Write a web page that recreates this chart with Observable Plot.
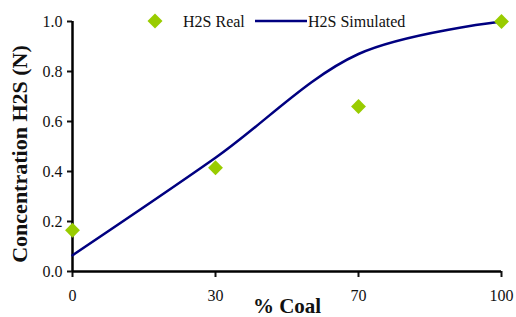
<!DOCTYPE html>
<html><head><meta charset="utf-8">
<script src="https://cdn.jsdelivr.net/npm/d3@7"></script>
<script src="https://cdn.jsdelivr.net/npm/@observablehq/plot@0.6"></script>
<style>
body{margin:0;background:#fff;}
#wrap{position:relative;width:516px;height:317px;font-family:"Liberation Serif",serif;}
#wrap svg{font-family:"Liberation Serif",serif !important;}
#wrap svg text{font-family:"Liberation Serif",serif !important;}
g[aria-label="x-axis label"]{font-weight:bold !important;font-size:21px !important;}
#legend{position:absolute;left:0;top:0;}
</style></head>
<body><div id="wrap"></div>
<script>
const coal = ["0", "30", "70", "100"];
const realH2S = [0.165, 0.415, 0.66, 1.0];
const simH2S = [0.065, 0.455, 0.87, 1.0];
const yTicks = [0, 0.2, 0.4, 0.6, 0.8, 1.0];
const seriesNames = ["H2S Real", "H2S Simulated"];
const xTitle = "% Coal";
const yTitle = "Concentration H2S (N)";
const colors = {real: "#99CC00", sim: "#000080"};

const real = coal.map((c, i) => ({c, v: realH2S[i]}));
const sim = coal.map((c, i) => ({c, v: simH2S[i]}));

const chart = Plot.plot({
  width: 516, height: 317,
  marginTop: 21, marginBottom: 46, marginLeft: 72, marginRight: 15,
  style: {background: "#fff", color: "#111"},
  x: {type: "point", domain: coal, padding: 0},
  y: {domain: [0, 1]},
  marks: [
    Plot.axisX({tickSize: 6, tickPadding: 12, strokeWidth: 2, fontSize: 16, label: xTitle, labelAnchor: "center", labelOffset: 41}),
    Plot.axisY({ticks: yTicks, tickSize: 5, tickPadding: 5, strokeWidth: 2, fontSize: 16, tickFormat: d3.format(".1f"), label: null}),
    Plot.text([yTitle], {frameAnchor: "left", textAnchor: "middle", lineAnchor: "middle", rotate: -90, dx: -52.5, dy: 7.5, fontSize: 22, fontWeight: "bold", fill: "#111"}),
    Plot.ruleY([0], {stroke: "#000", strokeWidth: 2.5}),
    Plot.ruleX([coal[0]], {stroke: "#000", strokeWidth: 2.5}),
    Plot.line(sim, {x: "c", y: "v", stroke: colors.sim, strokeWidth: 2.5, curve: "catmull-rom"}),
    Plot.dot(real, {x: "c", y: "v", symbol: "diamond2", r: 6.7, fill: colors.real, stroke: "none"})
  ]
});
const wrap = document.getElementById("wrap");
wrap.prepend(chart);

// legend overlay (inside plot area, as in the original)
const ns = "http://www.w3.org/2000/svg";
const lg = document.createElementNS(ns, "svg");
lg.setAttribute("id", "legend");
lg.setAttribute("width", 516);
lg.setAttribute("height", 40);
lg.innerHTML =
  `<path d="M155 13.5 L162.5 21 L155 28.5 L147.5 21 Z" fill="${colors.real}"/>` +
  `<text x="183" y="27" font-size="16" fill="#111" font-family="Liberation Serif, serif">${seriesNames[0]}</text>` +
  `<line x1="255" x2="307" y1="21" y2="21" stroke="${colors.sim}" stroke-width="2.5"/>` +
  `<text x="308" y="27" font-size="16" fill="#111" font-family="Liberation Serif, serif">${seriesNames[1]}</text>`;
wrap.appendChild(lg);
</script>
</body></html>
